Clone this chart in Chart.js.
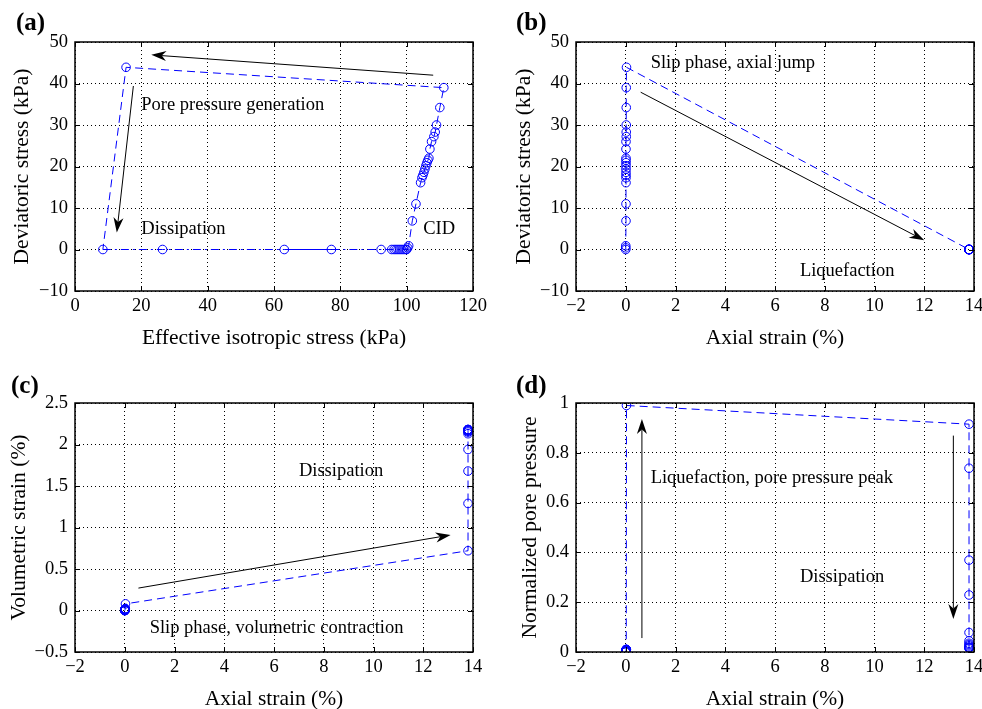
<!DOCTYPE html>
<html>
<head>
<meta charset="utf-8">
<script src="https://cdn.jsdelivr.net/npm/chart.js@4/dist/chart.umd.min.js"></script>
<style>
  html, body { margin: 0; padding: 0; background: #fff; overflow: hidden; }
  canvas { position: absolute; }
</style>
</head>
<body>
<canvas id="panelA" width="491" height="354" style="left:0;top:0"></canvas>
<canvas id="panelB" width="491" height="354" style="left:491px;top:0"></canvas>
<canvas id="panelC" width="491" height="370" style="left:0;top:354px"></canvas>
<canvas id="panelD" width="491" height="370" style="left:491px;top:354px"></canvas>
<script>
// consolidation-drained shearing (CID) up to the instability
const cidStress   = [100.0, 100.3, 100.6, 101.7, 102.8, 104.2, 104.6, 104.9, 105.2, 105.5, 105.8, 106.1, 106.4, 106.7, 107.0, 107.5, 108.2, 108.6, 109.0, 110.0, 111.2];
const cidDev      = [0.0, 0.4, 0.9, 6.9, 11.0, 16.1, 17.3, 17.9, 18.6, 19.4, 20.2, 20.9, 21.5, 22.0, 24.2, 26.0, 27.2, 28.3, 30.0, 34.2, 39.0];
const cidAxial    = [0, 0, 0, 0.01, 0.01, 0.01, 0.01, 0.01, 0.01, 0.01, 0.01, 0.01, 0.01, 0.01, 0.01, 0.01, 0.02, 0.02, 0.02, 0.02, 0.02];
const cidVol      = [0, 0, 0, 0, 0, 0.005, 0.005, 0.005, 0.01, 0.01, 0.01, 0.01, 0.01, 0.01, 0.015, 0.015, 0.015, 0.02, 0.02, 0.02, 0.02];
const cidPore     = [0, 0, 0, 0.002, 0.003, 0.004, 0.005, 0.005, 0.006, 0.006, 0.007, 0.007, 0.008, 0.008, 0.008, 0.009, 0.009, 0.01, 0.01, 0.01, 0.01];

// slip phase peak and liquefaction point
const slipStress = 15.4, slipDev = 43.9, slipAxial = 0.03, slipVol = 0.08, slipPore = 0.99;
const liqStress  = 8.4,  liqDev  = 0,    liqAxial  = 13.8, liqVol  = 0.72, liqPore  = 0.915;

// dissipation after liquefaction
const dissStress = [26.4, 63.1, 77.3, 92.3, 95.5, 96.2, 96.8, 97.4, 98.0, 98.6, 99.2, 99.8];
const dissDev    = [0, 0, 0, 0, 0, 0, 0, 0, 0, 0, 0, 0];
const dissAxial  = [13.8, 13.8, 13.8, 13.8, 13.8, 13.8, 13.8, 13.8, 13.8, 13.8, 13.8, 13.8];
const dissVol    = [1.29, 1.68, 1.94, 2.13, 2.15, 2.16, 2.17, 2.17, 2.18, 2.18, 2.18, 2.18];
const dissPore   = [0.738, 0.369, 0.229, 0.078, 0.045, 0.035, 0.03, 0.025, 0.02, 0.018, 0.016, 0.015];

const stressTicks = [0, 20, 40, 60, 80, 100, 120];
const strainTicks = [-2, 0, 2, 4, 6, 8, 10, 12, 14];

function series(cidX, cidY, slipX, slipY, liqX, liqY, dissX, dissY) {
  const xs = [...cidX, slipX, liqX, ...dissX];
  const ys = [...cidY, slipY, liqY, ...dissY];
  return xs.map((x, i) => ({ x: x, y: ys[i] }));
}

const FONT = '"Liberation Serif", "Times New Roman", serif';
const BLUE = '#0000ff';
const liqIndex = cidStress.length + 1;

function fmt(v) {
  return String(Number(v.toFixed(2))).replace('-', '\u2212');
}

function drawArrow(ctx, x1, y1, x2, y2) {
  const ang = Math.atan2(y2 - y1, x2 - x1);
  const L = 15, W = 5;
  const bx = x2 - L * Math.cos(ang), by = y2 - L * Math.sin(ang);
  const nx = x2 - L * 0.7 * Math.cos(ang), ny = y2 - L * 0.7 * Math.sin(ang);
  const px = -Math.sin(ang) * W, py = Math.cos(ang) * W;
  ctx.beginPath();
  ctx.moveTo(x1, y1);
  ctx.lineTo(nx, ny);
  ctx.stroke();
  ctx.beginPath();
  ctx.moveTo(x2, y2);
  ctx.lineTo(bx + px, by + py);
  ctx.lineTo(nx, ny);
  ctx.lineTo(bx - px, by - py);
  ctx.closePath();
  ctx.fill();
}

const decor = {
  id: 'decor',
  afterDatasetsDraw(chart, args, opts) {
    const { ctx, chartArea: a } = chart;
    const xs = chart.scales.x, ys = chart.scales.y;
    ctx.save();
    ctx.strokeStyle = '#000';
    ctx.fillStyle = '#000';
    // inward tick marks
    ctx.lineWidth = 1;
    xs.ticks.forEach(t => {
      const px = Math.round(xs.getPixelForValue(t.value)) + 0.5;
      ctx.beginPath();
      ctx.moveTo(px, a.bottom); ctx.lineTo(px, a.bottom - 5);
      ctx.moveTo(px, a.top); ctx.lineTo(px, a.top + 5);
      ctx.stroke();
    });
    ys.ticks.forEach(t => {
      const py = Math.round(ys.getPixelForValue(t.value)) + 0.5;
      ctx.beginPath();
      ctx.moveTo(a.left, py); ctx.lineTo(a.left + 5, py);
      ctx.moveTo(a.right, py); ctx.lineTo(a.right - 5, py);
      ctx.stroke();
    });
    // box
    ctx.lineWidth = 1.5;
    ctx.strokeRect(a.left, a.top, a.right - a.left, a.bottom - a.top);
    // arrows
    ctx.lineWidth = 1;
    opts.arrows.forEach(ar => {
      drawArrow(ctx, xs.getPixelForValue(ar[0]), ys.getPixelForValue(ar[1]),
                xs.getPixelForValue(ar[2]), ys.getPixelForValue(ar[3]));
    });
    // annotations
    ctx.font = '18.5px ' + FONT;
    ctx.textAlign = 'left';
    ctx.textBaseline = 'middle';
    opts.texts.forEach(t => {
      ctx.fillText(t[0], xs.getPixelForValue(t[1]), ys.getPixelForValue(t[2]));
    });
    // panel letter
    ctx.font = 'bold 25px ' + FONT;
    ctx.fillText(opts.label, opts.labelPos[0], opts.labelPos[1]);
    ctx.restore();
  }
};

function makePanel(id, cfg) {
  return new Chart(document.getElementById(id), {
    type: 'scatter',
    data: {
      datasets: [{
        data: cfg.points,
        showLine: true,
        borderColor: BLUE,
        borderWidth: 1,
        borderDash: [8, 5],
        segment: cfg.segment || {},
        pointStyle: 'circle',
        pointRadius: 4.3,
        pointBorderWidth: 1,
        pointBorderColor: BLUE,
        pointBackgroundColor: 'rgba(0,0,0,0)'
      }]
    },
    options: {
      responsive: false,
      animation: false,
      devicePixelRatio: 1,
      layout: { padding: cfg.padding },
      plugins: {
        legend: { display: false },
        tooltip: { enabled: false },
        decor: cfg.decor
      },
      scales: {
        x: {
          type: 'linear',
          min: cfg.xMin, max: cfg.xMax,
          afterBuildTicks: s => { s.ticks = cfg.xTicks.map(v => ({ value: v })); },
          afterFit: s => { s.height = 58; s.paddingLeft = 0; s.paddingRight = 0; },
          grid: { color: '#000', lineWidth: 1, drawTicks: false },
          border: { display: false, dash: [1, 3] },
          ticks: { padding: 4, color: '#000', font: { family: FONT, size: 18.5, lineHeight: 1.2 }, callback: fmt },
          title: { display: true, text: cfg.xTitle, color: '#000', padding: 0,
                   font: { family: FONT, size: 21.5, lineHeight: 1 } }
        },
        y: {
          type: 'linear',
          min: cfg.yMin, max: cfg.yMax,
          afterBuildTicks: s => { s.ticks = cfg.yTicks.map(v => ({ value: v })); },
          afterFit: s => { s.width = cfg.yWidth; s.paddingTop = 0; s.paddingBottom = 0; },
          grid: { color: '#000', lineWidth: 1, drawTicks: false },
          border: { display: false, dash: [1, 3] },
          ticks: { padding: 7, color: '#000', font: { family: FONT, size: 18.5, lineHeight: 1.2 }, callback: fmt },
          title: { display: true, text: cfg.yTitle, color: '#000', padding: { top: cfg.yTitlePad, bottom: 0 },
                   font: { family: FONT, size: 21.5, lineHeight: 1 } }
        }
      }
    },
    plugins: [decor]
  });
}

// (a) deviatoric vs effective isotropic stress
makePanel('panelA', {
  points: series(cidStress, cidDev, slipStress, slipDev, liqStress, liqDev, dissStress, dissDev),
  segment: {
    borderDash: c => {
      if (c.p0DataIndex === liqIndex + 2) return [];
      return c.p0DataIndex >= liqIndex ? [8, 4, 2, 4] : [8, 5];
    }
  },
  padding: { left: 0, top: 42, right: 18, bottom: 5 },
  yWidth: 75, yTitlePad: 12,
  xMin: 0, xMax: 120, xTicks: stressTicks,
  yMin: -10, yMax: 50, yTicks: [-10, 0, 10, 20, 30, 40, 50],
  xTitle: 'Effective isotropic stress (kPa)',
  yTitle: 'Deviatoric stress (kPa)',
  decor: {
    label: '(a)', labelPos: [16, 24],
    texts: [['Pore pressure generation', 20, 34.8], ['Dissipation', 20, 5], ['CID', 105, 5]],
    arrows: [[108, 42, 23, 46.9], [17.6, 39.4, 12.6, 4.1]]
  }
});

// (b) deviatoric stress vs axial strain
makePanel('panelB', {
  points: series(cidAxial, cidDev, slipAxial, slipDev, liqAxial, liqDev, dissAxial, dissDev),
  padding: { left: 0, top: 42, right: 8, bottom: 5 },
  yWidth: 85, yTitlePad: 23,
  xMin: -2, xMax: 14, xTicks: strainTicks,
  yMin: -10, yMax: 50, yTicks: [-10, 0, 10, 20, 30, 40, 50],
  xTitle: 'Axial strain (%)',
  yTitle: 'Deviatoric stress (kPa)',
  decor: {
    label: '(b)', labelPos: [25, 24],
    texts: [['Slip phase, axial jump', 1.0, 44.9], ['Liquefaction', 7.0, -5.2]],
    arrows: [[0.6, 37.9, 12.0, 2.2]]
  }
});

// (c) volumetric strain vs axial strain
makePanel('panelC', {
  points: series(cidAxial, cidVol, slipAxial, slipVol, liqAxial, liqVol, dissAxial, dissVol),
  padding: { left: 0, top: 49, right: 18, bottom: 14 },
  yWidth: 75, yTitlePad: 9,
  xMin: -2, xMax: 14, xTicks: strainTicks,
  yMin: -0.5, yMax: 2.5, yTicks: [-0.5, 0, 0.5, 1, 1.5, 2, 2.5],
  xTitle: 'Axial strain (%)',
  yTitle: 'Volumetric strain (%)',
  decor: {
    label: '(c)', labelPos: [11, 33],
    texts: [['Dissipation', 7.0, 1.68], ['Slip phase, volumetric contraction', 1.0, -0.21]],
    arrows: [[0.55, 0.27, 13.1, 0.91]]
  }
});

// (d) normalized pore pressure vs axial strain
makePanel('panelD', {
  points: series(cidAxial, cidPore, slipAxial, slipPore, liqAxial, liqPore, dissAxial, dissPore),
  padding: { left: 0, top: 49, right: 8, bottom: 14 },
  yWidth: 85, yTitlePad: 29,
  xMin: -2, xMax: 14, xTicks: strainTicks,
  yMin: 0, yMax: 1, yTicks: [0, 0.2, 0.4, 0.6, 0.8, 1],
  xTitle: 'Axial strain (%)',
  yTitle: 'Normalized pore pressure',
  decor: {
    label: '(d)', labelPos: [25, 33],
    texts: [['Liquefaction, pore pressure peak', 1.0, 0.70], ['Dissipation', 7.0, 0.30]],
    arrows: [[0.65, 0.056, 0.65, 0.936], [13.17, 0.869, 13.17, 0.133]]
  }
});
</script>
</body>
</html>
